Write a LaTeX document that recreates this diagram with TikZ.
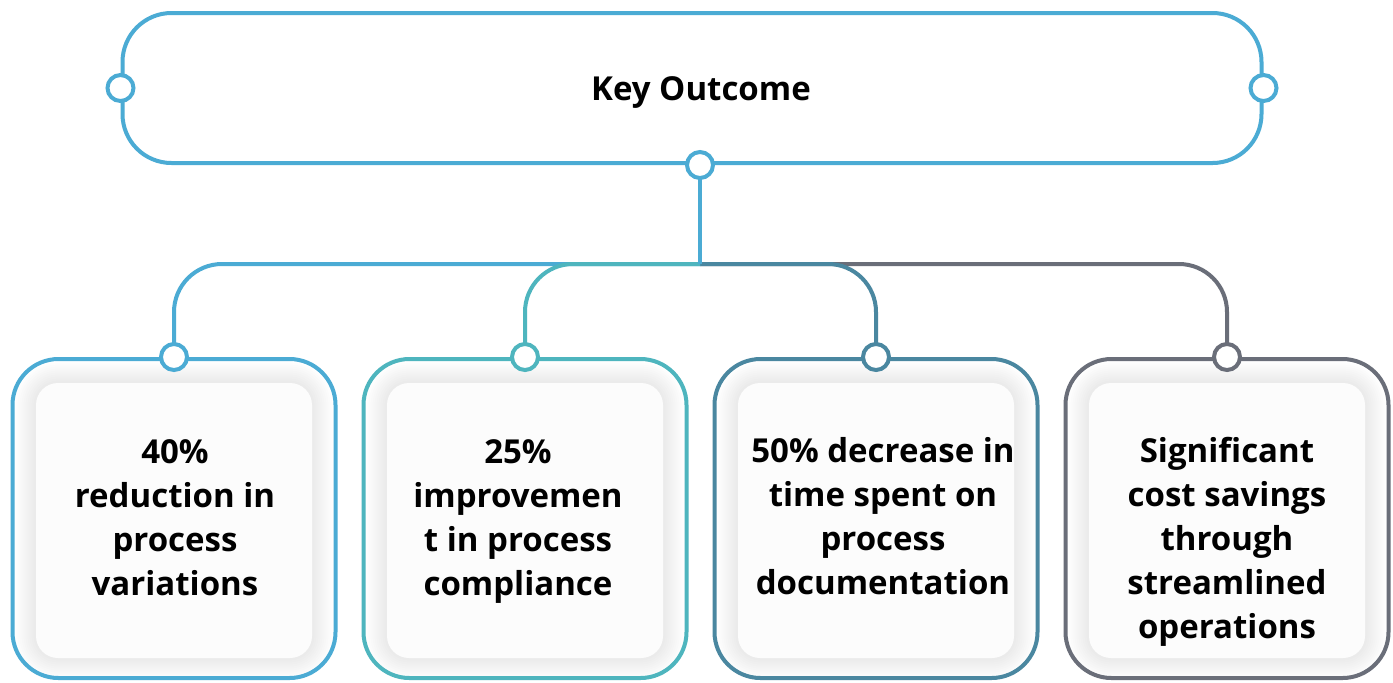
\documentclass[tikz,border=0pt]{standalone}
\usepackage{fontspec}
\setmainfont{Open Sans}
\usepackage{xcolor}
\usepackage{tikz}
\usetikzlibrary{
    positioning,
    calc,
    backgrounds
}
\definecolor{outblue}{HTML}{4BABD4}
\definecolor{outteal}{HTML}{4EB5BE}
\definecolor{outsteel}{HTML}{4A87A0}
\definecolor{outgray}{HTML}{6A6E79}
\definecolor{innerfill}{HTML}{FCFCFC}
\tikzset{
    keybox/.style={
        draw=outblue,
        line width=2pt,
        rounded corners=24.5pt,
        minimum width=569.5pt,
        minimum height=75pt,
        inner sep=0pt
    }
}
\tikzset{
    outerbox/.style={
        draw,
        line width=2pt,
        rounded corners=23pt,
        minimum width=161.5pt,
        minimum height=159.5pt,
        inner sep=0pt
    }
}
\tikzset{
    innerbox/.style={
        fill=innerfill,
        rounded corners=11pt,
        minimum width=138pt,
        minimum height=137.5pt,
        inner sep=0pt
    }
}
\tikzset{
    outcometext/.style={
        font=\bfseries\fontsize{16.5}{22}\selectfont,
        align=center,
        inner sep=0pt,
        anchor=north
    }
}
\tikzset{
    port/.style={
        circle,
        draw,
        fill=white,
        line width=2pt,
        minimum size=13pt,
        inner sep=0pt
    }
}
\tikzset{
    link/.style={
        line width=2pt,
        rounded corners=24pt
    }
}

\begin{document}
\begin{tikzpicture}

\path[use as bounding box] (0,0) rectangle (696.5pt,-341pt);

% ------------------------------------------------------------
% Key outcome
% ------------------------------------------------------------

\node[keybox] (key) at (346pt,-44pt) {};
\node[font=\bfseries\fontsize{16.5}{22}\selectfont, inner sep=0pt] (title)
    at (350.5pt,-46pt) {Key Outcome};

% ------------------------------------------------------------
% Outcome boxes
% ------------------------------------------------------------

\node[outerbox, draw=outblue] (o1) at (87pt,-259.25pt) {};
\node[outerbox, draw=outteal] (o2) at (262.5pt,-259.25pt) {};
\node[outerbox, draw=outsteel] (o3) at (438pt,-259.25pt) {};
\node[outerbox, draw=outgray] (o4) at (613.5pt,-259.25pt) {};

\node[innerbox] (in1) at ($(o1)+(0,-1pt)$) {};
\node[innerbox] (in2) at ($(o2)+(0,-1pt)$) {};
\node[innerbox] (in3) at ($(o3)+(0,-1pt)$) {};
\node[innerbox] (in4) at ($(o4)+(0,-1pt)$) {};

\node[outcometext] (t1) at ($(in1.north)+(0.5pt,-28.5pt)$)
    {40\%\\reduction in\\process\\variations};
\node[outcometext] (t2) at ($(in2.north)+(-3.5pt,-28.5pt)$)
    {25\%\\improvemen\\t in process\\compliance};
\node[outcometext] (t3) at ($(in3.north)+(3.5pt,-27pt)$)
    {50\% decrease in\\time spent on\\process\\documentation};
\node[outcometext] (t4) at ($(in4.north)+(0,-27pt)$)
    {Significant\\cost savings\\through\\streamlined\\operations};

% soft glow round the inner boxes
\begin{scope}[on background layer]
    \fill[white] (0,0) rectangle (696.5pt,-341pt);
    \foreach \b in {in1,in2,in3,in4} {
        \foreach \k in {1,...,10} {
            \pgfmathsetmacro\rad{11+\k}
            \fill[black, opacity=0.008, rounded corners=\rad pt]
                ($(\b.south west)+(-\k pt,-\k pt)$) rectangle ($(\b.north east)+(\k pt,\k pt)$);
        }
    }
\end{scope}

% ------------------------------------------------------------
% Connectors
% ------------------------------------------------------------

\coordinate (hub) at (350pt,-132pt);

\draw[link, outgray] (hub) -| (o4.north);
\draw[link, outsteel] (hub) -| (o3.north);
\draw[link, outblue] (hub) -| (o1.north);
\draw[link, outteal] (hub) -| (o2.north);
\draw[link, outblue] (key.south -| hub) -- (hub);

\node[port, draw=outblue] (pl) at (key.west) {};
\node[port, draw=outblue] (pr) at (key.east) {};
\node[port, draw=outblue] (pb) at (key.south -| hub) {};
\foreach \b/\c in {o1/outblue,o2/outteal,o3/outsteel,o4/outgray} {
    \node[port, draw=\c] (p\b) at (\b.north) {};
}

\end{tikzpicture}
\end{document}
